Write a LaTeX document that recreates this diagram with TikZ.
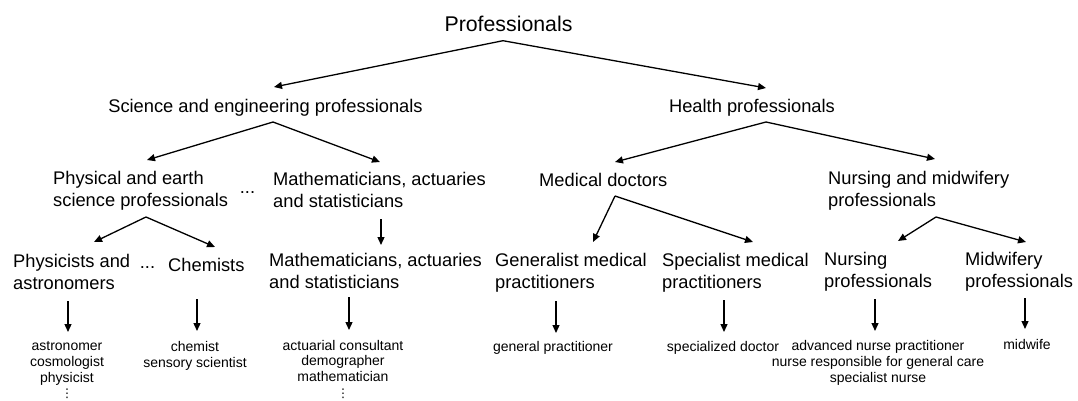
\documentclass[tikz,border=0pt]{standalone}
\usepackage{fontspec}
\setmainfont{Liberation Sans}
\newfontfamily\dejavu{DejaVu Sans}
\usetikzlibrary{arrows.meta}
\newcommand{\mydots}{{\dejavu\fontsize{12}{15.7}\selectfont ⋮}}
\begin{document}
\begin{tikzpicture}[x=1pt,y=-1pt,
  topfont/.style={font=\fontsize{21.3}{25}\selectfont, inner sep=0pt},
  big/.style={font=\fontsize{18.3}{22}\selectfont, inner sep=0pt, align=left,
    execute at begin node={\rule{0pt}{13.36pt}}},
  bigone/.style={font=\fontsize{18.3}{22}\selectfont, inner sep=0pt},
  small/.style={font=\fontsize{14}{15.7}\selectfont, inner sep=0pt, align=center,
    execute at begin node={\rule{0pt}{10.22pt}}},
  arr/.style={line width=1.3pt, -{Triangle[length=8pt,width=7pt]}}]
\useasboundingbox (0,0) rectangle (1078,401);

% level 1 and 2
\node[topfont, anchor=base] (prof) at (508.5,31.7) {Professionals};
\node[bigone, anchor=base] (sci) at (265.5,112.7) {Science and engineering professionals};
\node[bigone, anchor=base] (health) at (752,112.7) {Health professionals};

% level 3
\node[big, anchor=north west] (phys) at (53,171) {Physical and earth\\science professionals};
\node[bigone, anchor=base] (dotsA) at (247.5,193.5) {...};
\node[big, anchor=north west] (mathA) at (273,171.6) {Mathematicians, actuaries\\and statisticians};
\node[bigone, anchor=base west] (med) at (539,186) {Medical doctors};
\node[big, anchor=north west] (nursA) at (828,171) {Nursing and midwifery\\professionals};

% level 4
\node[big, anchor=north west] (physast) at (13,253.6) {Physicists and\\astronomers};
\node[bigone, anchor=base] (dotsB) at (147.5,268.5) {...};
\node[bigone, anchor=base west] (chem) at (168,271.3) {Chemists};
\node[big, anchor=north west] (mathB) at (269,252.6) {Mathematicians, actuaries\\and statisticians};
\node[big, anchor=north west] (gen) at (495,252.6) {Generalist medical\\practitioners};
\node[big, anchor=north west] (spec) at (662,252.6) {Specialist medical\\practitioners};
\node[big, anchor=north west] (nursB) at (824,251.6) {Nursing\\professionals};
\node[big, anchor=north west] (midB) at (965,251.6) {Midwifery\\professionals};

% level 5
\node[small, anchor=north] (lastro) at (67,341.5) {astronomer\\cosmologist\\physicist\\\mydots};
\node[small, anchor=north] (lchem) at (195,341.5) {chemist\\sensory scientist};
\node[small, anchor=north] (lmath) at (343,339.8) {actuarial consultant\\demographer\\mathematician\\\mydots};
\node[small, anchor=north] (lgp) at (553,341.5) {general practitioner};
\node[small, anchor=north] (lsd) at (723,341.5) {specialized doctor};
\node[small, anchor=north] (lnurse) at (878,340.5) {advanced nurse practitioner\\nurse responsible for general care\\specialist nurse};
\node[small, anchor=north] (lmid) at (1027,339) {midwife};

% connector points
\coordinate (profA) at (503,40.7);
\coordinate (sciT) at (274,87);
\coordinate (healthT) at (766,88);
\coordinate (sciA) at (273,122);
\coordinate (physT) at (147,160);
\coordinate (mathAT) at (380,162);
\coordinate (healthA) at (766,122);
\coordinate (medT) at (615,162);
\coordinate (nursAT) at (935,159);
\coordinate (physA) at (146,217);
\coordinate (physastT) at (94,242);
\coordinate (chemT) at (215,247);
\coordinate (mathAA) at (381,219);
\coordinate (mathBT) at (381,245);
\coordinate (medA) at (615,196);
\coordinate (genT) at (593,242);
\coordinate (specT) at (753,242);
\coordinate (nursAA) at (936,217);
\coordinate (nursBT) at (898,241);
\coordinate (midBT) at (1026,242);

\coordinate (physastA) at (68,301);  \coordinate (lastroT) at (68,332);
\coordinate (chemA) at (197,299);    \coordinate (lchemT) at (197,331);
\coordinate (mathBA) at (349,297);   \coordinate (lmathT) at (349,330);
\coordinate (genA) at (556,301);     \coordinate (lgpT) at (556,333);
\coordinate (specA) at (724,300);    \coordinate (lsdT) at (724,332);
\coordinate (nursBA) at (875,299);   \coordinate (lnurseT) at (875,331);
\coordinate (midBA) at (1025,298);   \coordinate (lmidT) at (1025,329);

% connectors
\draw[arr] (profA) -- (sciT);
\draw[arr] (profA) -- (healthT);
\draw[arr] (sciA) -- (physT);
\draw[arr] (sciA) -- (mathAT);
\draw[arr] (healthA) -- (medT);
\draw[arr] (healthA) -- (nursAT);
\draw[arr] (physA) -- (physastT);
\draw[arr] (physA) -- (chemT);
\draw[arr] (mathAA) -- (mathBT);
\draw[arr] (medA) -- (genT);
\draw[arr] (medA) -- (specT);
\draw[arr] (nursAA) -- (nursBT);
\draw[arr] (nursAA) -- (midBT);
\draw[arr] (physastA) -- (lastroT);
\draw[arr] (chemA) -- (lchemT);
\draw[arr] (mathBA) -- (lmathT);
\draw[arr] (genA) -- (lgpT);
\draw[arr] (specA) -- (lsdT);
\draw[arr] (nursBA) -- (lnurseT);
\draw[arr] (midBA) -- (lmidT);
\end{tikzpicture}
\end{document}
